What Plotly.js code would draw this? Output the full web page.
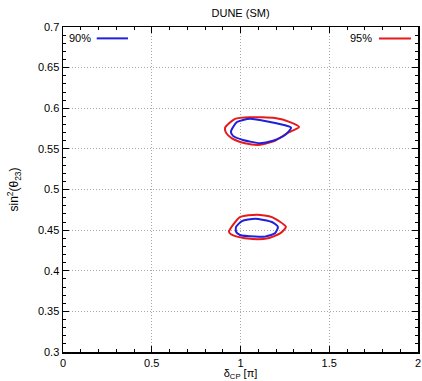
<!DOCTYPE html>
<html>
<head>
<meta charset="utf-8">
<script src="https://cdn.plot.ly/plotly-3.0.1.min.js"></script>
<style>html,body{margin:0;padding:0;background:#fff;}#chart{width:422px;height:381px;}</style>
</head>
<body>
<div id="chart"></div>
<script>
// Upper octant island, 90% CL (blue)
const up90_x = [0.946, 0.980, 1.054, 1.166, 1.251, 1.285, 1.251, 1.183, 1.110, 1.014, 0.958, 0.946];
const up90_y = [0.571, 0.583, 0.587, 0.583, 0.579, 0.576, 0.567, 0.560, 0.557, 0.561, 0.566, 0.571];
// Upper octant island, 95% CL (red)
const up95_x = [0.913, 0.969, 1.054, 1.194, 1.279, 1.330, 1.268, 1.194, 1.110, 1.025, 0.952, 0.918, 0.913];
const up95_y = [0.576, 0.587, 0.589, 0.588, 0.583, 0.577, 0.570, 0.560, 0.555, 0.557, 0.563, 0.570, 0.576];
// Lower octant island, 90% CL (blue)
const lo90_x = [0.975, 1.008, 1.082, 1.177, 1.211, 1.194, 1.138, 1.082, 0.997, 0.975, 0.975];
const lo90_y = [0.454, 0.461, 0.464, 0.460, 0.454, 0.446, 0.442, 0.442, 0.444, 0.448, 0.454];
// Lower octant island, 95% CL (red)
const lo95_x = [0.935, 0.997, 1.093, 1.177, 1.256, 1.223, 1.155, 1.070, 0.980, 0.946, 0.935];
const lo95_y = [0.448, 0.466, 0.469, 0.466, 0.454, 0.446, 0.440, 0.439, 0.442, 0.445, 0.448];

const xTicks = [0, 0.5, 1, 1.5, 2];
const xTickLabels = ['0', '0.5', '1', '1.5', '2'];
const yTicks = [0.3, 0.35, 0.4, 0.45, 0.5, 0.55, 0.6, 0.65, 0.7];
const yTickLabels = ['0.3', '0.35', '0.4', '0.45', '0.5', '0.55', '0.6', '0.65', '0.7'];

const blue = '#1f1fdc';
const red = '#e41a1c';
const font = 'Liberation Sans, Arial, sans-serif';

const traces = [
  {x: up95_x, y: up95_y, mode: 'lines', line: {color: red, width: 2, shape: 'spline', smoothing: 0.6}, showlegend: false, hoverinfo: 'skip'},
  {x: lo95_x, y: lo95_y, mode: 'lines', line: {color: red, width: 2, shape: 'spline', smoothing: 0.6}, showlegend: false, hoverinfo: 'skip'},
  {x: up90_x, y: up90_y, mode: 'lines', line: {color: blue, width: 2, shape: 'spline', smoothing: 0.6}, showlegend: false, hoverinfo: 'skip'},
  {x: lo90_x, y: lo90_y, mode: 'lines', line: {color: blue, width: 2, shape: 'spline', smoothing: 0.6}, showlegend: false, hoverinfo: 'skip'}
];

const axisCommon = {
  showline: true, linecolor: '#000', linewidth: 1.5, mirror: 'ticks',
  ticks: 'inside', ticklen: 6, tickwidth: 1, tickcolor: '#000',
  showgrid: true, gridcolor: '#a8a8a8', griddash: '1px,2px', gridwidth: 1,
  zeroline: false, tickfont: {family: font, size: 11, color: '#000'}
};

const layout = {
  width: 422, height: 381,
  margin: {l: 63, r: 4, t: 27, b: 29},
  paper_bgcolor: '#fff', plot_bgcolor: '#fff',
  showlegend: false,
  title: {text: 'DUNE (SM)', font: {family: font, size: 11, color: '#000'}, x: 0.57, xanchor: 'center', y: 0.965, yanchor: 'middle'},
  xaxis: Object.assign({}, axisCommon, {
    range: [0, 2], tickvals: xTicks, ticktext: xTickLabels,
    minor: {dtick: 0.1, ticks: 'inside', ticklen: 3, tickcolor: '#000', showgrid: false},
    title: {text: 'δ<sub>CP</sub> [π]', font: {family: font, size: 11, color: '#000'}, standoff: 3}
  }),
  yaxis: Object.assign({}, axisCommon, {
    range: [0.3, 0.7], tickvals: yTicks, ticktext: yTickLabels,
    minor: {dtick: 0.01, ticks: 'inside', ticklen: 3, tickcolor: '#000', showgrid: false},
    title: {text: 'sin<sup>2</sup>(θ<sub>23</sub>)', font: {family: font, size: 12, color: '#000'}, standoff: 16}
  }),
  annotations: [
    {text: '90%', xref: 'paper', yref: 'paper', x: 0.01, y: 0.965, xanchor: 'left', yanchor: 'middle', showarrow: false, font: {family: font, size: 11, color: '#000'}},
    {text: '95%', xref: 'paper', yref: 'paper', x: 0.875, y: 0.965, xanchor: 'right', yanchor: 'middle', showarrow: false, font: {family: font, size: 11, color: '#000'}}
  ],
  shapes: [
    {type: 'line', xref: 'paper', yref: 'paper', x0: 0.095, x1: 0.183, y0: 0.965, y1: 0.965, line: {color: blue, width: 2}},
    {type: 'line', xref: 'paper', yref: 'paper', x0: 0.89, x1: 0.98, y0: 0.965, y1: 0.965, line: {color: red, width: 2}}
  ]
};

Plotly.newPlot('chart', traces, layout, {displayModeBar: false, staticPlot: true});
</script>
</body>
</html>
